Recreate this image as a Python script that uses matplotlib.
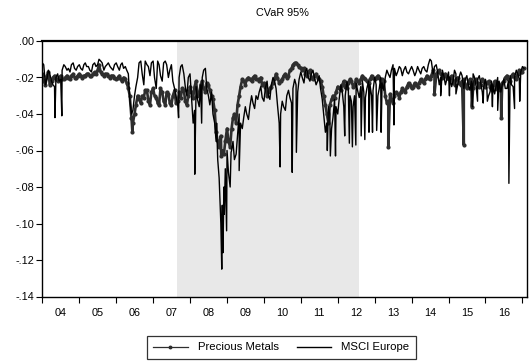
import numpy as np
import pandas as pd
import matplotlib
matplotlib.use("Agg")
import matplotlib.pyplot as plt
import matplotlib.dates as mdates
from matplotlib.ticker import FixedLocator, NullFormatter, FuncFormatter

plt.rcParams['font.family'] = ['Liberation Sans', 'DejaVu Sans']

# ---------------- data: two readings per month, Jan 2004 .. Jan 2017 ----------------
month_starts = pd.date_range("2004-01-01", periods=157, freq="MS")
mid_months = month_starts + pd.Timedelta(days=14)

# readings at mid-month
precious_metals = [
    -0.022, -0.019, -0.024, -0.020, -0.021, -0.020, -0.021, -0.020, -0.020, -0.019, -0.020, -0.019,  # 2004
    -0.019, -0.019, -0.018, -0.019, -0.018, -0.018, -0.013, -0.018, -0.018, -0.019, -0.019, -0.020,  # 2005
    -0.020, -0.021, -0.020, -0.023, -0.030, -0.045, -0.035, -0.032, -0.030, -0.027, -0.033, -0.028,  # 2006
    -0.030, -0.034, -0.026, -0.033, -0.028, -0.034, -0.030, -0.034, -0.028, -0.026, -0.033, -0.030,  # 2007
    -0.028, -0.025, -0.030, -0.024, -0.026, -0.023, -0.027, -0.032, -0.050, -0.058, -0.060, -0.055,  # 2008
    -0.055, -0.048, -0.040, -0.035, -0.025, -0.022, -0.021, -0.021, -0.020, -0.021, -0.022, -0.024,  # 2009
    -0.025, -0.028, -0.025, -0.021, -0.020, -0.022, -0.019, -0.020, -0.016, -0.013, -0.012, -0.014,  # 2010
    -0.016, -0.018, -0.017, -0.020, -0.019, -0.020, -0.022, -0.030, -0.040, -0.035, -0.030, -0.028,  # 2011
    -0.026, -0.024, -0.025, -0.023, -0.022, -0.024, -0.022, -0.021, -0.020, -0.022, -0.021, -0.020,  # 2012
    -0.020, -0.020, -0.021, -0.030, -0.033, -0.032, -0.030, -0.029, -0.028, -0.027, -0.025, -0.024,  # 2013
    -0.025, -0.024, -0.023, -0.022, -0.021, -0.020, -0.019, -0.018, -0.017, -0.018, -0.019, -0.020,  # 2014
    -0.020, -0.022, -0.021, -0.023, -0.022, -0.024, -0.023, -0.025, -0.022, -0.023, -0.024, -0.022,  # 2015
    -0.023, -0.025, -0.024, -0.026, -0.025, -0.023, -0.020, -0.021, -0.019, -0.020, -0.018, -0.017,  # 2016
    -0.015,                                                                                          # 2017
]
# readings at the start of each month
precious_metals_start = [
    -0.018, -0.024, -0.017, -0.022, -0.019, -0.022, -0.019, -0.021, -0.019, -0.021, -0.018, -0.020,  # 2004
    -0.018, -0.020, -0.019, -0.018, -0.019, -0.017, -0.016, -0.017, -0.019, -0.018, -0.020, -0.019,  # 2005
    -0.021, -0.019, -0.022, -0.021, -0.026, -0.042, -0.040, -0.030, -0.034, -0.031, -0.027, -0.035,  # 2006
    -0.026, -0.031, -0.035, -0.028, -0.035, -0.029, -0.035, -0.027, -0.033, -0.031, -0.027, -0.035,  # 2007
    -0.025, -0.031, -0.022, -0.029, -0.022, -0.028, -0.024, -0.030, -0.038, -0.055, -0.052, -0.062,  # 2008
    -0.048, -0.058, -0.042, -0.045, -0.030, -0.021, -0.024, -0.020, -0.022, -0.019, -0.021, -0.020,  # 2009
    -0.023, -0.030, -0.026, -0.023, -0.018, -0.023, -0.021, -0.018, -0.019, -0.015, -0.012, -0.013,  # 2010
    -0.015, -0.015, -0.019, -0.016, -0.021, -0.018, -0.021, -0.025, -0.035, -0.045, -0.032, -0.031,  # 2011
    -0.025, -0.027, -0.022, -0.026, -0.021, -0.025, -0.021, -0.023, -0.019, -0.021, -0.023, -0.019,  # 2012
    -0.021, -0.019, -0.022, -0.022, -0.034, -0.029, -0.034, -0.028, -0.031, -0.026, -0.028, -0.023,  # 2013
    -0.026, -0.023, -0.025, -0.021, -0.023, -0.019, -0.021, -0.016, -0.019, -0.016, -0.020, -0.018,  # 2014
    -0.021, -0.019, -0.024, -0.020, -0.024, -0.021, -0.026, -0.021, -0.026, -0.021, -0.025, -0.021,  # 2015
    -0.025, -0.022, -0.027, -0.022, -0.027, -0.024, -0.022, -0.019, -0.022, -0.018, -0.021, -0.016,  # 2016
    -0.017,                                                                                          # 2017
]

msci_europe = [
    -0.013, -0.021, -0.018, -0.024, -0.020, -0.022, -0.016, -0.014, -0.015, -0.013, -0.015, -0.014,  # 2004
    -0.015, -0.013, -0.014, -0.016, -0.013, -0.014, -0.010, -0.012, -0.014, -0.012, -0.015, -0.013,  # 2005
    -0.014, -0.013, -0.015, -0.016, -0.032, -0.038, -0.025, -0.012, -0.018, -0.011, -0.014, -0.012,  # 2006
    -0.020, -0.011, -0.019, -0.012, -0.013, -0.016, -0.022, -0.030, -0.020, -0.013, -0.025, -0.020,  # 2007
    -0.030, -0.038, -0.032, -0.024, -0.016, -0.026, -0.035, -0.040, -0.055, -0.075, -0.090, -0.070,  # 2008
    -0.072, -0.060, -0.065, -0.052, -0.045, -0.042, -0.040, -0.036, -0.034, -0.030, -0.028, -0.031,  # 2009
    -0.026, -0.030, -0.024, -0.022, -0.035, -0.040, -0.036, -0.030, -0.031, -0.026, -0.024, -0.021,  # 2010
    -0.020, -0.017, -0.020, -0.018, -0.020, -0.022, -0.026, -0.040, -0.045, -0.040, -0.042, -0.036,  # 2011
    -0.032, -0.028, -0.030, -0.027, -0.033, -0.030, -0.027, -0.025, -0.028, -0.026, -0.024, -0.027,  # 2012
    -0.024, -0.026, -0.023, -0.020, -0.018, -0.016, -0.015, -0.017, -0.015, -0.016, -0.017, -0.016,  # 2013
    -0.016, -0.017, -0.016, -0.015, -0.016, -0.013, -0.011, -0.014, -0.017, -0.020, -0.019, -0.021,  # 2014
    -0.020, -0.022, -0.018, -0.020, -0.019, -0.021, -0.024, -0.022, -0.020, -0.021, -0.023, -0.025,  # 2015
    -0.026, -0.028, -0.024, -0.025, -0.022, -0.024, -0.026, -0.022, -0.024, -0.020, -0.018, -0.017,  # 2016
    -0.015,                                                                                          # 2017
]
msci_europe_start = [
    -0.012, -0.024, -0.016, -0.022, -0.025, -0.018, -0.021, -0.013, -0.016, -0.017, -0.012, -0.016,  # 2004
    -0.013, -0.016, -0.012, -0.014, -0.017, -0.012, -0.013, -0.011, -0.016, -0.013, -0.014, -0.016,  # 2005
    -0.012, -0.016, -0.012, -0.014, -0.018, -0.040, -0.030, -0.020, -0.011, -0.024, -0.013, -0.019,  # 2006
    -0.011, -0.026, -0.013, -0.022, -0.011, -0.020, -0.013, -0.026, -0.035, -0.014, -0.018, -0.030,  # 2007
    -0.018, -0.045, -0.025, -0.036, -0.020, -0.015, -0.030, -0.028, -0.045, -0.065, -0.100, -0.080,  # 2008
    -0.060, -0.080, -0.055, -0.062, -0.040, -0.048, -0.036, -0.043, -0.030, -0.037, -0.032, -0.025,  # 2009
    -0.033, -0.022, -0.032, -0.020, -0.026, -0.045, -0.033, -0.038, -0.027, -0.034, -0.021, -0.028,  # 2010
    -0.017, -0.023, -0.015, -0.022, -0.016, -0.024, -0.019, -0.032, -0.050, -0.036, -0.048, -0.032,  # 2011
    -0.040, -0.024, -0.036, -0.022, -0.030, -0.036, -0.023, -0.031, -0.022, -0.031, -0.022, -0.030,  # 2012
    -0.020, -0.030, -0.020, -0.027, -0.016, -0.020, -0.013, -0.019, -0.014, -0.019, -0.014, -0.018,  # 2013
    -0.014, -0.019, -0.014, -0.018, -0.014, -0.017, -0.010, -0.018, -0.013, -0.024, -0.016, -0.024,  # 2014
    -0.017, -0.025, -0.016, -0.024, -0.017, -0.026, -0.019, -0.027, -0.018, -0.025, -0.019, -0.028,  # 2015
    -0.021, -0.030, -0.022, -0.029, -0.020, -0.028, -0.021, -0.026, -0.019, -0.025, -0.016, -0.021,  # 2016
    -0.014,                                                                                          # 2017
]

# isolated daily extremes
pm_spike_dates = ["2006-06-10", "2008-11-05", "2013-05-15", "2014-08-15", "2015-06-01",
                  "2015-08-20", "2016-06-05"]
pm_spike_values = [-0.050, -0.063, -0.058, -0.029, -0.057, -0.036, -0.042]

msci_spike_dates = ["2004-05-05", "2004-07-12", "2007-09-10", "2008-02-17", "2008-04-25",
                    "2008-09-20", "2008-11-10", "2008-11-22", "2008-12-05", "2008-12-28",
                    "2009-02-10", "2009-05-01", "2010-06-10", "2010-10-08", "2010-11-18",
                    "2011-09-20", "2011-10-20", "2011-12-10", "2012-03-10", "2012-04-25",
                    "2012-05-25", "2012-06-28", "2012-08-20", "2012-09-25", "2012-11-05",
                    "2012-12-10", "2013-01-20", "2013-03-05", "2013-07-10", "2014-10-15",
                    "2015-01-10", "2015-03-15", "2015-08-25", "2015-10-15", "2015-12-10",
                    "2016-01-20", "2016-03-10", "2016-05-01", "2016-08-20", "2016-10-15",
                    "2016-12-05"]
msci_spike_values = [-0.042, -0.041, -0.042, -0.073, -0.045,
                     -0.045, -0.125, -0.116, -0.095, -0.104,
                     -0.061, -0.071, -0.069, -0.072, -0.061,
                     -0.060, -0.063, -0.063, -0.052, -0.056,
                     -0.058, -0.057, -0.052, -0.054, -0.050,
                     -0.050, -0.049, -0.050, -0.046, -0.030,
                     -0.030, -0.029, -0.036, -0.033, -0.034,
                     -0.033, -0.036, -0.038, -0.078, -0.037,
                     -0.033]

shade_start, shade_end = "2007-08-25", "2012-07-25"
year_ticks = list(range(2004, 2018))
year_labels = [f"{y % 100:02d}" for y in range(2004, 2017)]


def merged(mid_vals, start_vals, sp_dates, sp_vals):
    parts = [pd.Series(mid_vals, index=mid_months),
             pd.Series(start_vals, index=month_starts),
             pd.Series(sp_vals, index=pd.to_datetime(sp_dates))]
    return pd.concat(parts).sort_index()


pm = merged(precious_metals, precious_metals_start, pm_spike_dates, pm_spike_values)
ms = merged(msci_europe, msci_europe_start, msci_spike_dates, msci_spike_values)

# ---------------- figure ----------------
fig = plt.figure(figsize=(5.29, 3.63), dpi=100)
ax = fig.add_axes([42.3 / 529, 1 - 296.5 / 363, (527 - 42.3) / 529, (296.5 - 41) / 363])

ax.axvspan(pd.Timestamp(shade_start), pd.Timestamp(shade_end), color="#e8e8e8", lw=0, zorder=0)

l1, = ax.plot(pm.index, pm.values, color="#2e2e2e", lw=1.9, marker="o", ms=2.0,
              mec="#2e2e2e", mfc="#2e2e2e", zorder=2, label="Precious Metals")
l2, = ax.plot(ms.index, ms.values, color="black", lw=1.0, zorder=3, label="MSCI Europe")

ax.set_xlim(pd.Timestamp("2004-01-01"), pd.Timestamp("2017-02-15"))
ax.set_ylim(-0.14, 0.0)
ax.set_yticks(np.arange(-0.14, 0.001, 0.02))
ax.yaxis.set_major_formatter(FuncFormatter(lambda v, p: ("-" if v < -1e-9 else "") + f"{abs(v):.2f}"[1:]))

major = [mdates.date2num(pd.Timestamp(f"{y}-01-01")) for y in year_ticks]
minor = [mdates.date2num(pd.Timestamp(f"{y}-07-02")) for y in range(2004, 2017)]
ax.xaxis.set_major_locator(FixedLocator(major))
ax.xaxis.set_major_formatter(NullFormatter())
ax.set_xticks(minor, labels=year_labels, minor=True)

ax.tick_params(axis="x", which="major", direction="out", length=4, width=0.8)
ax.tick_params(axis="x", which="minor", length=0, pad=8, labelsize=7.8)
ax.tick_params(axis="y", direction="out", length=4, width=0.8, pad=2, labelsize=7.8)
for sp in ax.spines.values():
    sp.set_linewidth(1.0)
ax.spines["top"].set_linewidth(1.6)

fig.text(282 / 529, 1 - 13.5 / 363, "CVaR 95%", ha="center", va="center", fontsize=7.8)

leg = fig.legend(handles=[l1, l2], loc="center", bbox_to_anchor=(281.5 / 529, 1 - 347.5 / 363),
                 ncol=2, frameon=True, fancybox=False, edgecolor="black", fontsize=8.2,
                 handlelength=3.0, columnspacing=1.6, handletextpad=0.9, borderpad=0.55,
                 borderaxespad=0.0, numpoints=1)
leg.get_frame().set_linewidth(0.9)
leg.legend_handles[0].set_linewidth(0.9)
leg.legend_handles[0].set_markersize(1.8)

fig.savefig("out.png", dpi=100)
